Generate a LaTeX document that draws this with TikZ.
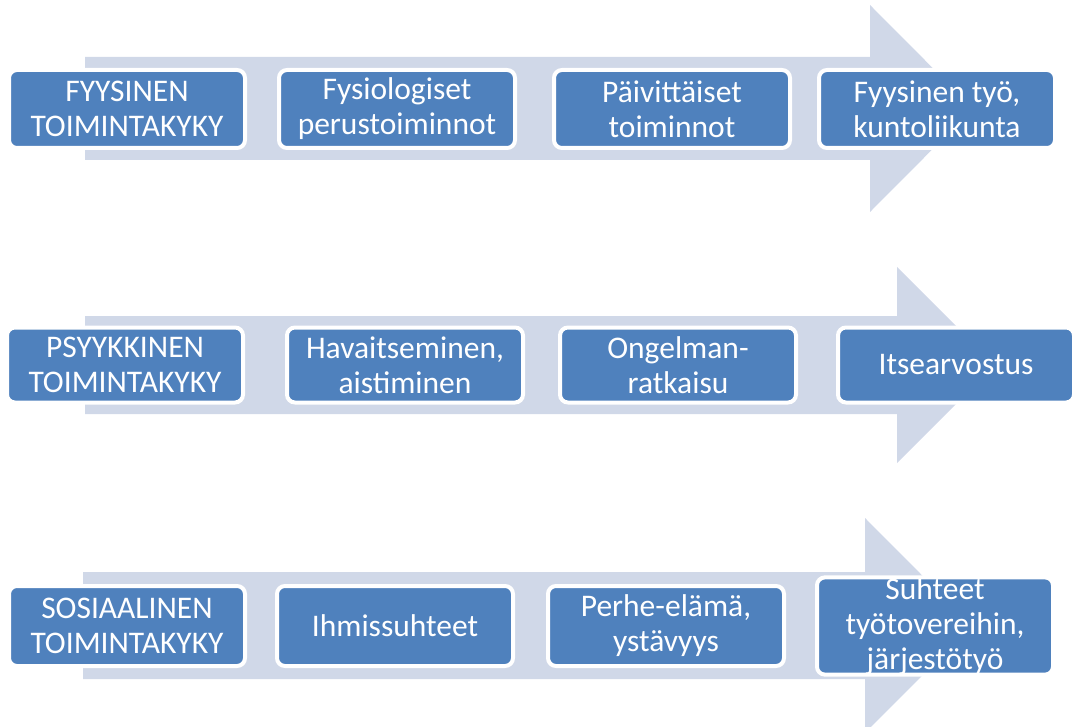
\documentclass[tikz,border=0pt]{standalone}
\usepackage{fontspec}
\setmainfont{Carlito}
\definecolor{boxblue}{HTML}{4F81BD}
\definecolor{bandgray}{HTML}{D0D8E8}

\begin{document}
\begin{tikzpicture}[x=1pt,y=-1pt,
    s/.style={draw=white,line width=4pt,fill=boxblue,rounded corners=8pt,
        text=white,align=center,font=\fontsize{31.5}{35}\selectfont,
        minimum width=236pt,minimum height=78pt,inner sep=0pt},
    band/.style={fill=bandgray},
]

    \useasboundingbox (0,0) rectangle (1073,727);
    \clip (0,0) rectangle (1073,727);

    % arrows behind the boxes
    \fill[band] (85,57) -- (870,57) -- (870,5) -- (973,108.5) -- (870,212) -- (870,160) -- (85,160) -- cycle;
    \fill[band] (85,316) -- (897,316) -- (897,267) -- (995,365) -- (897,463) -- (897,414) -- (85,414) -- cycle;
    \fill[band] (83,572) -- (865,572) -- (865,518) -- (972,625.5) -- (865,733) -- (865,679) -- (83,679) -- cycle;

    % fyysinen
    \node[s] (fyys) at (127,109) {FYYSINEN\\TOIMINTAKYKY};
    \node[s] (fysio) at (397,109) {Fysiologiset\\perustoiminnot};
    \node[s] (paiv) at (672,109) {Päivittäiset\\toiminnot};
    \node[s] (tyo) at (937,109) {Fyysinen työ,\\kuntoliikunta};

    % psyykkinen
    \node[s,minimum height=75pt] (psyyk) at (125,365) {PSYYKKINEN\\TOIMINTAKYKY};
    \node[s,minimum height=75pt] (havait) at (405,365) {Havaitseminen,\\aistiminen};
    \node[s,minimum height=75pt] (ongel) at (678,365) {Ongelman-\\ratkaisu};
    \node[s,minimum height=75pt] (itse) at (956,365) {Itsearvostus};

    % sosiaalinen
    \node[s,minimum height=80pt] (sosi) at (127,626) {SOSIAALINEN\\TOIMINTAKYKY};
    \node[s,minimum height=80pt] (ihmis) at (395,626) {Ihmissuhteet};
    \node[s,minimum height=80pt] (perhe) at (666,626) {Perhe-elämä,\\ystävyys};
    \node[s,minimum height=80pt] (suht) at (935,626) {Suhteet\\työtovereihin,\\järjestötyö};

\end{tikzpicture}
\end{document}
